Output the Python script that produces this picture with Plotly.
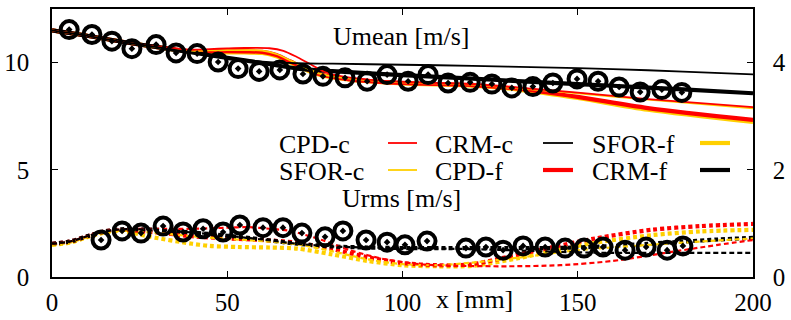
import plotly.graph_objects as go

# ---- measured profiles: x position along the axis [mm] ----
# mean velocity (left axis, m/s)
umean_x_exp = [4.9, 11.4, 17.1, 22.8, 29.7, 35.4, 41.4, 47.4, 53.1, 59.1, 65.0, 71.6, 77.3, 83.6, 89.9,
               95.6, 101.6, 107.3, 113.0, 119.3, 125.5, 131.2, 137.2, 142.9, 149.8, 155.8, 161.8, 167.8, 174.0, 179.7]
umean_exp = [11.54, 11.31, 11.0, 10.65, 10.84, 10.45, 10.42, 10.03, 9.72, 9.59, 9.66, 9.47, 9.36, 9.29, 9.13,
             9.44, 9.13, 9.44, 9.05, 9.08, 9.0, 8.82, 8.88, 9.05, 9.24, 9.13, 8.86, 8.63, 8.74, 8.61]

# rms velocity (right axis, m/s)
urms_x_exp = [14.0, 20.0, 25.4, 31.7, 37.4, 43.1, 48.8, 53.6, 60.2, 65.9, 71.3, 77.9, 83.0, 89.6, 95.6,
              100.7, 107.0, 118.1, 123.8, 128.7, 134.4, 140.7, 146.4, 151.8, 157.2, 163.5, 169.5, 175.5, 180.0]
urms_exp = [0.69, 0.86, 0.82, 0.95, 0.84, 0.90, 0.84, 0.97, 0.92, 0.92, 0.82, 0.75, 0.86, 0.69, 0.65,
            0.60, 0.67, 0.54, 0.56, 0.50, 0.58, 0.56, 0.54, 0.54, 0.56, 0.50, 0.56, 0.50, 0.58]

# ---- simulated mean velocity ----
crm_c_umean_x = [0, 10, 20, 30, 40, 50, 60, 70, 80, 100, 120, 140, 160, 180, 200]
crm_c_umean = [11.5, 11.25, 10.97, 10.72, 10.47, 10.22, 10.05, 9.97, 9.95, 9.9, 9.85, 9.78, 9.7, 9.58, 9.45]
crm_f_umean_x = [0, 10, 20, 30, 40, 50, 60, 70, 80, 100, 120, 140, 160, 180, 200]
crm_f_umean = [11.5, 11.25, 10.97, 10.72, 10.47, 10.22, 9.98, 9.72, 9.6, 9.42, 9.25, 9.08, 8.92, 8.75, 8.57]

cpd_c_umean_x = [0, 10, 20, 30, 40, 45, 50, 55, 62, 66, 70, 74, 78, 85, 100, 120, 133, 150, 170, 200]
cpd_c_umean = [11.5, 11.25, 10.97, 10.75, 10.6, 10.63, 10.66, 10.68, 10.67, 10.55, 10.25, 9.9, 9.55, 9.3,
               9.1, 9.0, 8.83, 8.6, 8.3, 7.92]
sfor_c_umean_x = [0, 10, 20, 30, 40, 45, 50, 55, 60, 64, 68, 72, 76, 85, 100, 120, 133, 150, 170, 200]
sfor_c_umean = [11.5, 11.25, 10.97, 10.73, 10.55, 10.57, 10.58, 10.58, 10.56, 10.4, 10.1, 9.8, 9.5, 9.25,
                9.08, 8.97, 8.8, 8.57, 8.27, 7.87]
cpd_f_umean_x = [0, 10, 20, 30, 40, 45, 50, 55, 60, 64, 68, 72, 76, 85, 100, 120, 133, 150, 170, 200]
cpd_f_umean = [11.5, 11.25, 10.97, 10.72, 10.52, 10.52, 10.53, 10.52, 10.5, 10.35, 10.05, 9.75, 9.48, 9.22,
               9.05, 8.95, 8.78, 8.4, 7.88, 7.33]
sfor_f_umean_x = [0, 10, 20, 30, 40, 45, 50, 55, 60, 64, 68, 72, 76, 85, 100, 120, 133, 150, 170, 200]
sfor_f_umean = [11.5, 11.25, 10.97, 10.72, 10.5, 10.48, 10.48, 10.47, 10.45, 10.3, 10.0, 9.7, 9.45, 9.2,
                9.03, 8.93, 8.74, 8.35, 7.8, 7.23]

# ---- simulated rms velocity ----
crm_f_urms_x = [0, 5, 10, 15, 20, 30, 40, 50, 60, 70, 80, 90, 100, 120, 140, 150, 160, 170, 180, 190, 200]
crm_f_urms = [0.62, 0.66, 0.76, 0.85, 0.89, 0.88, 0.83, 0.77, 0.70, 0.62, 0.57, 0.55, 0.54, 0.54, 0.54,
              0.55, 0.58, 0.62, 0.66, 0.70, 0.73]
crm_c_urms_x = [0, 5, 10, 15, 20, 30, 40, 50, 60, 70, 80, 90, 100, 120, 140, 150, 160, 180, 200]
crm_c_urms = [0.62, 0.66, 0.76, 0.85, 0.89, 0.88, 0.83, 0.77, 0.70, 0.62, 0.57, 0.55, 0.54, 0.52, 0.48,
              0.46, 0.45, 0.45, 0.45]
cpd_c_urms_x = [0, 5, 10, 15, 20, 30, 40, 50, 56, 62, 68, 72, 77, 85, 95, 105, 115, 130, 145, 160, 175, 190, 200]
cpd_c_urms = [0.62, 0.66, 0.76, 0.85, 0.89, 0.9, 0.9, 0.92, 0.93, 0.9, 0.86, 0.79, 0.69, 0.5, 0.33, 0.24,
              0.21, 0.2, 0.22, 0.3, 0.45, 0.6, 0.69]
cpd_f_urms_x = [0, 5, 10, 15, 20, 30, 40, 50, 60, 70, 80, 90, 100, 110, 120, 133, 143, 155, 171, 185, 200]
cpd_f_urms = [0.62, 0.66, 0.76, 0.85, 0.88, 0.83, 0.76, 0.72, 0.69, 0.64, 0.52, 0.37, 0.26, 0.22, 0.24,
              0.42, 0.56, 0.72, 0.88, 0.95, 0.99]
sfor_f_urms_x = [0, 5, 10, 15, 20, 28, 40, 45, 53, 62, 70, 80, 90, 100, 110, 120, 133, 143, 155, 171, 185, 200]
sfor_f_urms = [0.6, 0.64, 0.74, 0.83, 0.86, 0.75, 0.62, 0.58, 0.56, 0.55, 0.53, 0.42, 0.3, 0.22, 0.2, 0.21,
               0.35, 0.49, 0.64, 0.78, 0.85, 0.88]
sfor_c_urms_x = [0, 5, 10, 15, 20, 30, 40, 50, 60, 70, 80, 90, 100, 110, 120, 133, 150, 175, 200]
sfor_c_urms = [0.6, 0.64, 0.74, 0.83, 0.86, 0.82, 0.76, 0.71, 0.67, 0.61, 0.48, 0.33, 0.24, 0.22, 0.27,
               0.36, 0.5, 0.62, 0.72]

# axis ticks
x_ticks = [0, 50, 100, 150, 200]
y_ticks = [0, 5, 10]
y2_ticks = [0, 2, 4]

RED = "#ff0000"
GOLD = "#ffd000"
BLACK = "#000000"
FONT = "'Liberation Serif', 'Times New Roman', Times, 'DejaVu Serif', serif"
THIN, THICK = 1.8, 4.2

# plot frame in pixels (used to place legend items and labels)
W, H = 791, 320
L, R, T, B = 52, 753, 9, 277


def px(xp):
    return (xp - L) / (R - L)


def py(yp):
    return (B - yp) / (B - T)


fig = go.Figure()

# mean-velocity model curves (left axis)
umean_models = [
    (sfor_f_umean_x, sfor_f_umean, GOLD, THICK),
    (cpd_f_umean_x, cpd_f_umean, RED, THICK),
    (crm_f_umean_x, crm_f_umean, BLACK, THICK),
    (sfor_c_umean_x, sfor_c_umean, GOLD, THIN),
    (cpd_c_umean_x, cpd_c_umean, RED, THIN),
    (crm_c_umean_x, crm_c_umean, BLACK, THIN),
]
for xs, ys, col, w in umean_models:
    fig.add_trace(go.Scatter(x=xs, y=ys, mode="lines", yaxis="y",
                             line=dict(color=col, width=w, shape="spline", smoothing=0.8),
                             showlegend=False, hoverinfo="skip"))

# rms-velocity model curves (right axis)
urms_models = [
    (sfor_f_urms_x, sfor_f_urms, GOLD, THICK, "4px,3px"),
    (cpd_f_urms_x, cpd_f_urms, RED, THICK, "4px,3px"),
    (crm_f_urms_x, crm_f_urms, BLACK, THICK, "4px,3px"),
    (sfor_c_urms_x, sfor_c_urms, GOLD, THIN + 0.4, "5px,3px"),
    (cpd_c_urms_x, cpd_c_urms, RED, THIN + 0.4, "5px,3px"),
    (crm_c_urms_x, crm_c_urms, BLACK, THIN + 0.4, "5px,3px"),
]
for xs, ys, col, w, dash in urms_models:
    fig.add_trace(go.Scatter(x=xs, y=ys, mode="lines", yaxis="y2",
                             line=dict(color=col, width=w, dash=dash, shape="spline", smoothing=0.8),
                             showlegend=False, hoverinfo="skip"))

# measurements
marker_style = dict(symbol="circle-open-dot", size=17, color=BLACK, line=dict(color=BLACK, width=4))
fig.add_trace(go.Scatter(x=umean_x_exp, y=umean_exp, mode="markers", yaxis="y",
                         marker=marker_style, showlegend=False))
fig.add_trace(go.Scatter(x=urms_x_exp, y=urms_exp, mode="markers", yaxis="y2",
                         marker=marker_style, showlegend=False))

annotations = [
    dict(text="Umean [m/s]", x=px(401), y=py(36)),
    dict(text="Urms [m/s]", x=px(401), y=py(198)),
    dict(text="x [mm]", x=px(474), y=py(299)),
]
annotations = [dict(a, xref="paper", yref="paper", showarrow=False, xanchor="center", yanchor="middle",
                    font=dict(family=FONT, size=26, color=BLACK)) for a in annotations]

# key: label followed by a short line sample, three columns by two rows
key_entries = [
    ("CPD-c", RED, THIN), ("CRM-c", BLACK, THIN), ("SFOR-f", GOLD, THICK),
    ("SFOR-c", GOLD, THIN), ("CPD-f", RED, THICK), ("CRM-f", BLACK, THICK),
]
col_text = [277, 433, 590]
col_line = [(388, 417), (543, 573), (700, 730)]
row_y = [143, 170]
shapes = []
for i, (name, col, w) in enumerate(key_entries):
    r, c = divmod(i, 3)
    annotations.append(dict(text=name, x=px(col_text[c]), y=py(row_y[r] + 1), xref="paper", yref="paper",
                            showarrow=False, xanchor="left", yanchor="middle",
                            font=dict(family=FONT, size=26, color=BLACK)))
    shapes.append(dict(type="line", xref="paper", yref="paper",
                       x0=px(col_line[c][0]), x1=px(col_line[c][1]), y0=py(row_y[r]), y1=py(row_y[r]),
                       line=dict(color=col, width=w)))

axis_common = dict(showgrid=False, zeroline=False, showline=True, linecolor=BLACK, linewidth=1.5,
                   ticks="inside", ticklen=6, tickwidth=1, tickcolor=BLACK, automargin=False,
                   tickfont=dict(family=FONT, size=25, color=BLACK))

fig.update_layout(
    width=W, height=H,
    margin=dict(l=L, r=W - R, t=T, b=H - B, pad=0),
    paper_bgcolor="white", plot_bgcolor="white",
    font=dict(family=FONT),
    xaxis=dict(axis_common, range=[0, 200], tickvals=x_ticks, mirror="ticks", ticklabelstandoff=2),
    yaxis=dict(axis_common, range=[0, 12.5], tickvals=y_ticks, ticklabelstandoff=16),
    yaxis2=dict(axis_common, range=[0, 5], tickvals=y2_ticks, overlaying="y", side="right",
                ticklabelstandoff=13),
    annotations=annotations,
    shapes=shapes,
    showlegend=False,
)

fig.write_html("out.html")
